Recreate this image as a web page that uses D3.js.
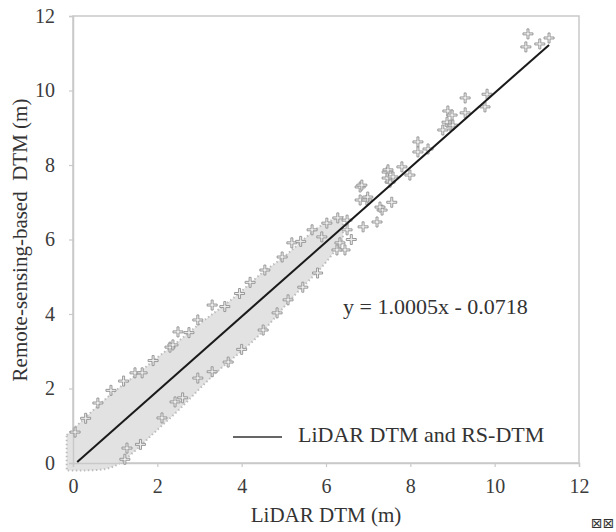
<!DOCTYPE html>
<html>
<head>
<meta charset="utf-8">
<script src="https://cdn.jsdelivr.net/npm/d3@7"></script>
<style>
  body { margin: 0; background: #fff; }
  svg text { font-family: "Liberation Serif", "Tinos", "Times New Roman", "DejaVu Serif", serif; }
</style>
</head>
<body>
<script>
var w = 616;
var h = 532;
var margin = {top: 16, right: 37, bottom: 69, left: 73};

// tick values on both axes
const ticks = [0, 2, 4, 6, 8, 10, 12];

// dense band of points (upper / lower edge)
const bandX     = [-0.15, 0.0, 0.5, 1.0, 1.5, 2.0, 2.5, 3.0, 3.5, 4.0, 4.5, 5.0, 5.5, 6.0, 6.4];
const bandUpper = [0.75, 0.9, 1.45, 1.95, 2.35, 2.85, 3.25, 3.75, 4.15, 4.6, 5.15, 5.5, 6.05, 6.5, 6.6];
const bandLower = [-0.2, -0.2, -0.2, -0.15, 0.35, 0.9, 1.4, 2.0, 2.55, 3.0, 3.5, 4.2, 4.8, 5.35, 6.0];

// single points that stand out (LiDAR DTM, RS-DTM)
const lidarX = [0.05, 0.3, 0.59, 0.9, 1.2, 1.47, 1.64, 1.9, 2.3, 2.37, 2.49, 2.75, 2.96, 3.3, 3.6,
  3.95, 4.2, 4.55, 4.96, 5.19, 5.4, 5.67, 5.9, 6.02, 6.28, 6.5, 6.33, 6.45, 6.5,
  1.28, 1.23, 1.6, 2.11, 2.42, 2.6, 2.96, 3.3, 3.68, 4.0, 4.51, 4.84, 5.1, 5.45, 5.8, 6.26, 6.6,
  6.88, 7.21, 7.33,
  6.81, 6.81, 6.97, 7.45, 7.52, 7.56, 6.85, 6.99, 7.28, 7.47, 7.45, 7.59, 7.8, 7.99,
  8.18, 8.18, 8.42, 8.77, 8.89, 8.87, 8.94, 8.99, 9.01, 9.3, 9.3, 9.82, 9.77,
  10.79, 10.74, 11.07, 11.29];
const rsY = [0.83, 1.2, 1.61, 1.95, 2.2, 2.42, 2.42, 2.75, 3.11, 3.17, 3.52, 3.5, 3.84, 4.24, 4.2,
  4.55, 4.85, 5.18, 5.53, 5.91, 5.95, 6.26, 6.07, 6.44, 6.58, 6.52, 5.91, 5.72, 6.26,
  0.4, 0.1, 0.5, 1.21, 1.64, 1.75, 2.28, 2.45, 2.71, 3.05, 3.57, 4.03, 4.38, 4.72, 5.1, 5.72, 6.0,
  6.34, 6.47, 6.79,
  7.41, 7.06, 7.06, 7.81, 7.54, 7.0, 7.46, 7.14, 6.87, 7.87, 7.65, 7.68, 7.95, 7.73,
  8.62, 8.35, 8.43, 8.94, 9.45, 9.15, 9.07, 9.34, 9.07, 9.8, 9.4, 9.9, 9.56,
  11.52, 11.17, 11.25, 11.41];

// fitted line y = 1.0005x - 0.0718
const slope = 1.0005;
const intercept = -0.0718;
const fitRange = [0.1, 11.29];

window.onload = function() {

  var svg = d3.select("body").append("svg")
              .attr("width", w)
              .attr("height", h);

  var x = d3.scaleLinear().domain([0, 12]).range([margin.left, w - margin.right]);
  var y = d3.scaleLinear().domain([0, 12]).range([h - margin.bottom, margin.top]);

  // frame of the plot
  svg.append("rect")
     .attr("x", x(0)).attr("y", y(12))
     .attr("width", x(12) - x(0)).attr("height", y(0) - y(12))
     .attr("fill", "none")
     .attr("stroke", "#c9c9c9")
     .attr("stroke-width", 1.5);

  // dense band
  var band = d3.area()
     .x(function(d, i) { return x(bandX[i]); })
     .y0(function(d, i) { return y(bandLower[i]); })
     .y1(function(d, i) { return y(bandUpper[i]); })
     .curve(d3.curveBasis);

  svg.append("path")
     .datum(bandX)
     .attr("d", band)
     .attr("fill", "#e2e2e2")
     .attr("stroke", "#bdbdbd")
     .attr("stroke-width", 2)
     .attr("stroke-dasharray", "1.5,2.5");

  // axes
  var xAxis = svg.append("g")
     .attr("transform", "translate(0," + y(0) + ")")
     .call(d3.axisBottom(x).tickValues(ticks).tickSize(4).tickPadding(12));
  var yAxis = svg.append("g")
     .attr("transform", "translate(" + x(0) + ",0)")
     .call(d3.axisLeft(y).tickValues(ticks).tickSize(4).tickPadding(14));

  [xAxis, yAxis].forEach(function(a) {
    a.attr("font-family", null).attr("font-size", null);
    a.select(".domain").attr("stroke", "#c9c9c9").attr("stroke-width", 1.5);
    a.selectAll(".tick line").attr("stroke", "#c9c9c9").attr("stroke-width", 1.2);
    a.selectAll(".tick text")
     .attr("fill", "#3c3c3c")
     .style("font-size", "20px");
  });

  // plus markers
  var L = 5, t = 1.0;
  var cross = "M" + (-t) + "," + (-L) + "H" + t + "V" + (-t) + "H" + L + "V" + t + "H" + t +
              "V" + L + "H" + (-t) + "V" + t + "H" + (-L) + "V" + (-t) + "H" + (-t) + "Z";

  svg.selectAll(".pt")
     .data(lidarX)
     .enter()
     .append("path")
     .attr("class", "pt")
     .attr("transform", function(d, i) {
        return "translate(" + x(d) + "," + y(rsY[i]) + ")";
     })
     .attr("d", cross)
     .attr("fill", "#eeeeee")
     .attr("stroke", "#8f8f8f")
     .attr("stroke-width", 0.9);

  // regression line
  svg.append("line")
     .attr("x1", x(fitRange[0])).attr("y1", y(slope * fitRange[0] + intercept))
     .attr("x2", x(fitRange[1])).attr("y2", y(slope * fitRange[1] + intercept))
     .attr("stroke", "#1a1a1a")
     .attr("stroke-width", 2);

  // equation
  svg.append("text")
     .attr("x", 343).attr("y", 314)
     .attr("fill", "#333")
     .style("font-size", "22px")
     .text("y = 1.0005x - 0.0718");

  // legend
  svg.append("line")
     .attr("x1", 233).attr("x2", 282)
     .attr("y1", 437).attr("y2", 437)
     .attr("stroke", "#333")
     .attr("stroke-width", 1.5);
  svg.append("text")
     .attr("x", 298).attr("y", 442)
     .attr("fill", "#333")
     .style("font-size", "22px")
     .text("LiDAR DTM and RS-DTM");

  // axis titles
  svg.append("text")
     .attr("x", (x(0) + x(12)) / 2).attr("y", 522)
     .attr("text-anchor", "middle")
     .attr("fill", "#333")
     .style("font-size", "21px")
     .text("LiDAR DTM (m)");

  svg.append("text")
     .attr("transform", "translate(27," + 240 + ") rotate(-90)")
     .attr("text-anchor", "middle")
     .attr("fill", "#333")
     .style("font-size", "21px")
     .text("Remote-sensing-based  DTM (m)")
     .style("white-space", "pre");

  // stray glyphs in the corner
  svg.append("text")
     .attr("x", 591).attr("y", 528)
     .attr("fill", "#333")
     .style("font-family", "DejaVu Sans")
     .style("font-size", "14px")
     .text("⊠⊠");
};
</script>
</body>
</html>
